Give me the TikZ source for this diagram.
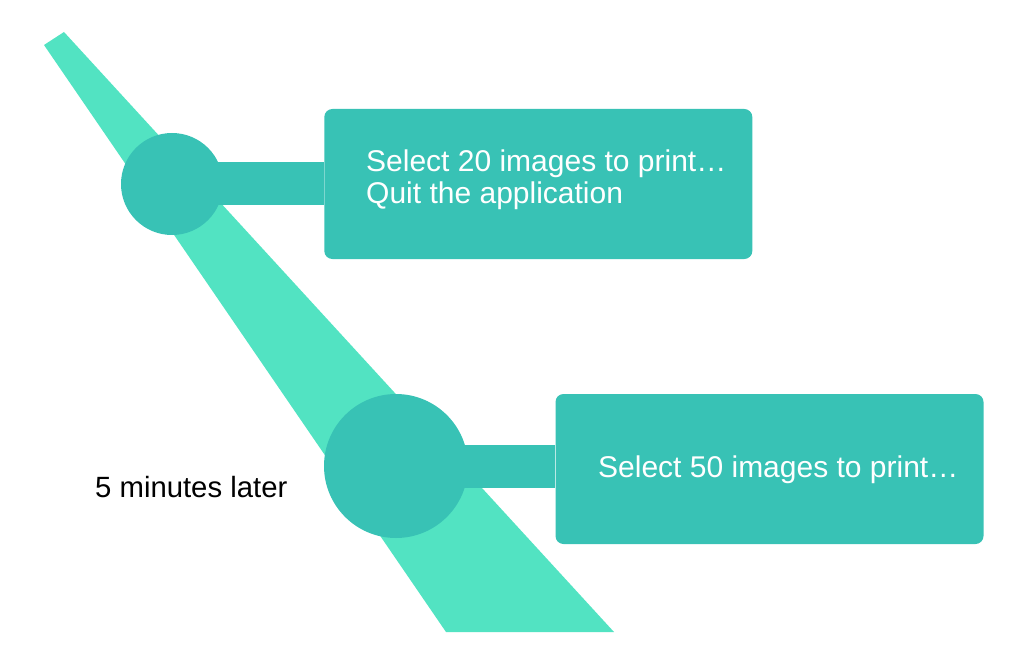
\documentclass[tikz,border=0pt]{standalone}
\usepackage{fontspec}
\setmainfont{Liberation Sans}
\usetikzlibrary{backgrounds}
\definecolor{wedgecol}{RGB}{82,227,194}
\definecolor{tealcol}{RGB}{56,194,181}
\begin{document}
\begin{tikzpicture}[x=1pt,y=-1pt,
 dot/.style={circle,fill=tealcol,inner sep=0pt,minimum size=#1},
 card/.style={rounded corners=8pt,fill=tealcol,minimum width=428pt,minimum height=150pt,inner sep=0pt},
 cardtext/.style={text=white,font=\fontsize{30}{32}\selectfont,inner sep=0pt,anchor=base west,align=left},
 plaintext/.style={text=black,font=\fontsize{29.3}{32}\selectfont,inner sep=0pt,anchor=base west},
 bar/.style={draw=tealcol,line width=43pt},
 ]
\useasboundingbox (0,0) rectangle (1032,668);
\node[dot=102pt] (c1) at (172,184) {};
\node[dot=144pt] (c2) at (396,466) {};
\node[card] (b1) at (538.3,184) {};
\node[card] (b2) at (769.5,469) {};
\node[cardtext] (t1) at (366,204) {Select 20 images to print…\\Quit the application};
\node[cardtext] (t2) at (598,477) {Select 50 images to print…};
\node[plaintext] (lbl) at (95,497) {5 minutes later};
\begin{scope}[on background layer]
\fill[wedgecol] (44,45) -- (64,32) -- (614,632) -- (446,632) -- cycle;
\draw[bar] (c1.center) -- (b1.west |- c1.center);
\draw[bar] (c2.center) -- (b2.west |- c2.center);
\end{scope}
\end{tikzpicture}
\end{document}
